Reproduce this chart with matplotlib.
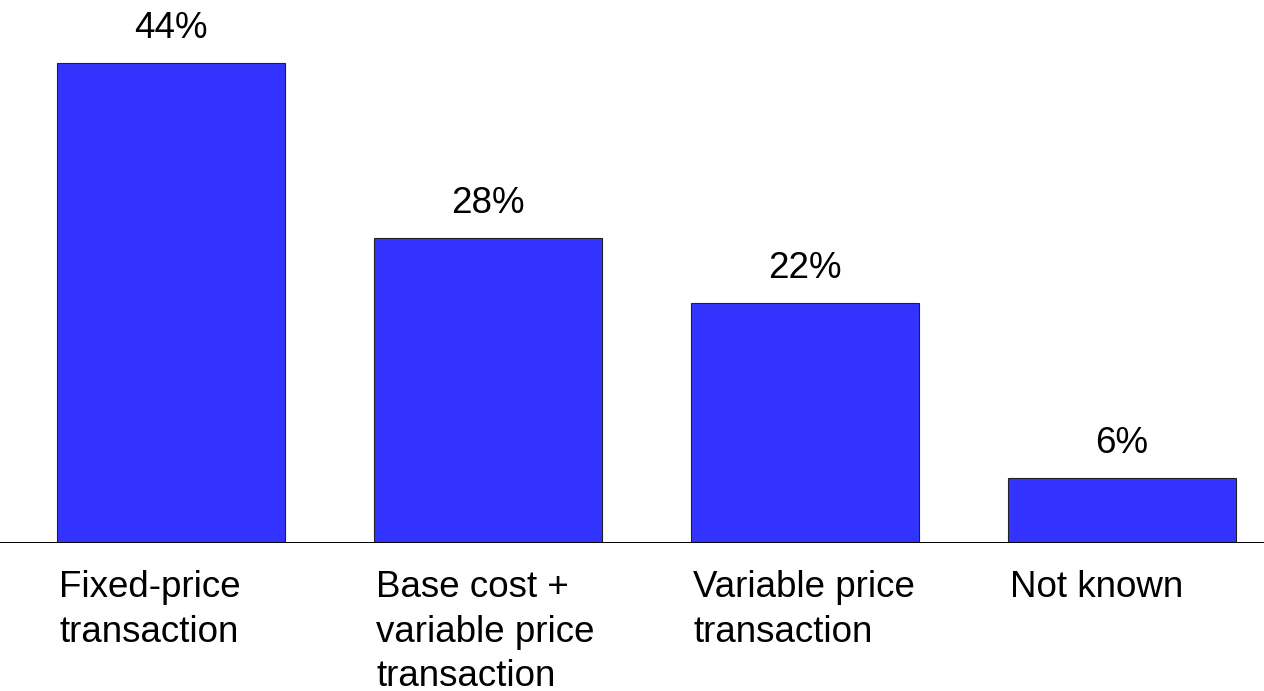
import matplotlib
matplotlib.use("Agg")
import matplotlib.pyplot as plt

categories = ["Fixed-price\ntransaction",
              "Base cost +\nvariable price\ntransaction",
              "Variable price\ntransaction",
              "Not known"]
values = [44, 28, 22, 6]
value_labels = ["44%", "28%", "22%", "6%"]

plt.rcParams['font.family'] = ['Liberation Sans', 'DejaVu Sans']

fig = plt.figure(figsize=(12.64, 6.91), dpi=100)
ax = fig.add_axes([0, 148/691, 1, 543/691])

x = list(range(len(values)))
w = 0.72
ax.bar(x, values, width=w, color='#3333FF', edgecolor='#222222', linewidth=0.8, zorder=2)
ax.set_xlim(-171/317, (1264-171)/317)
ax.set_ylim(0, 543/10.9)
ax.axhline(0, color='black', linewidth=1.4, zorder=3)

for s in ax.spines.values():
    s.set_visible(False)
ax.set_xticks([])
ax.set_yticks([])

px2pt = 72/100
for xi, v, lab in zip(x, values, value_labels):
    ax.annotate(lab, xy=(xi, v), xytext=(0, 25*px2pt), textcoords='offset points',
                ha='center', va='baseline', fontsize=26.5, color='black')

for xi, cat in zip(x, categories):
    for j, line in enumerate(cat.split('\n')):
        ax.annotate(line, xy=(xi - w/2, 0), xytext=(2.5*px2pt, -(54 + 44.5*j)*px2pt),
                    textcoords='offset points', ha='left', va='baseline',
                    fontsize=26.5, color='black', annotation_clip=False)

fig.savefig('out.png', dpi=100)
